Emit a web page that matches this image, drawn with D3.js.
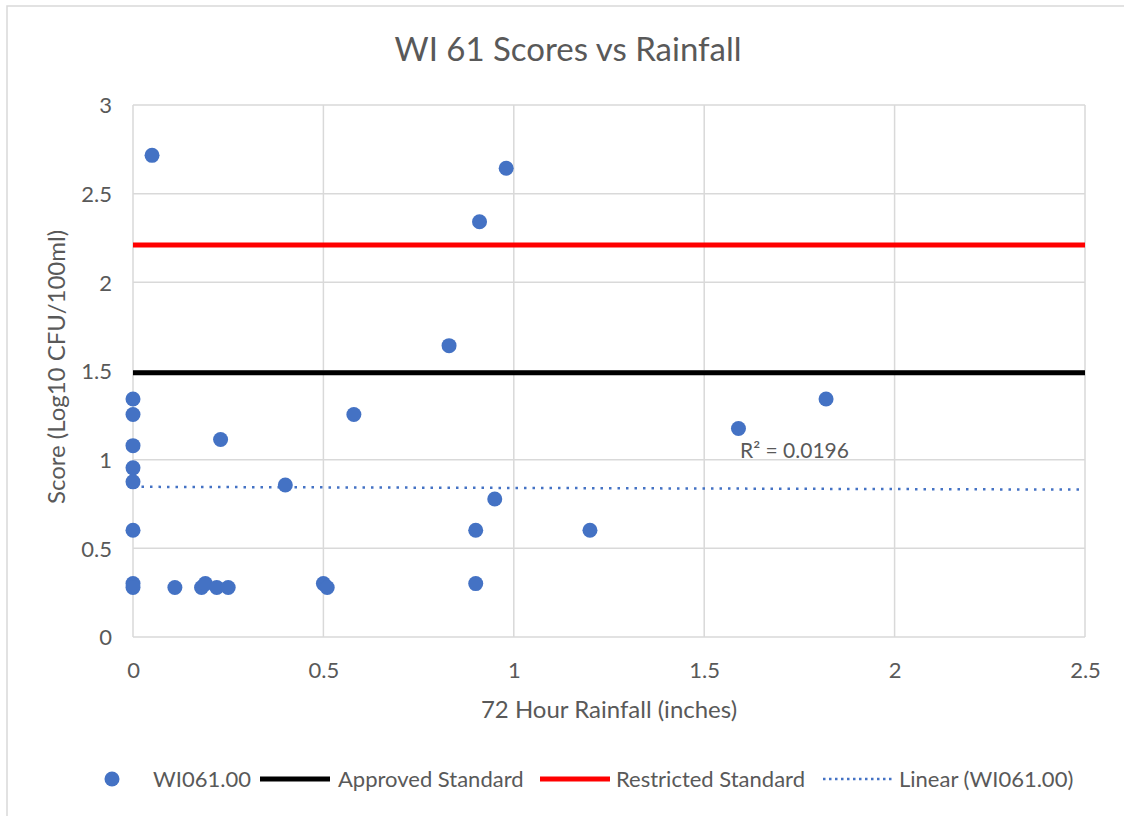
<!DOCTYPE html>
<html>
<head>
<meta charset="utf-8">
<script src="https://cdn.jsdelivr.net/npm/d3@7"></script>
<style>
  html, body { margin: 0; padding: 0; background: #fff; }
  svg { display: block; }
  text { font-family: Lato, "Open Sans", sans-serif; fill: #595959; }
</style>
</head>
<body>
<svg id="chart" width="1124" height="816"></svg>
<script>
// ---- data ----
const rainfall = [0.05, 0.98, 0.91, 0.83, 0.58, 0.23, 0.40, 0.95, 0.90, 1.20, 0.90, 1.59, 1.82,
                  0, 0, 0, 0, 0, 0, 0, 0,
                  0.11, 0.18, 0.19, 0.22, 0.25, 0.50, 0.51];
const scores   = [2.716, 2.643, 2.342, 1.643, 1.255, 1.114, 0.857, 0.778, 0.602, 0.602, 0.301, 1.176, 1.342,
                  1.342, 1.255, 1.079, 0.954, 0.875, 0.602, 0.301, 0.279,
                  0.279, 0.279, 0.301, 0.279, 0.279, 0.301, 0.279];
const approvedStandard = 1.49;
const restrictedStandard = 2.21;
const trendX = [0, 2.5];
const trendY = [0.847, 0.831];
const rSquaredLabel = "R² = 0.0196";
const xTicks = [0, 0.5, 1, 1.5, 2, 2.5];
const yTicks = [0, 0.5, 1, 1.5, 2, 2.5, 3];
const legendLabels = ["WI061.00", "Approved Standard", "Restricted Standard", "Linear (WI061.00)"];

const svg = d3.select("#chart");
const x = d3.scaleLinear().domain([0, 2.5]).range([133, 1085]);
const y = d3.scaleLinear().domain([0, 3]).range([637, 105]);

const blue = "#4472C4", grid = "#d9d9d9";
const FONT = "Lato, 'Open Sans', sans-serif";

// chart border
svg.append("rect").attr("x", 7).attr("y", 6).attr("width", 1130).attr("height", 830)
  .attr("fill", "none").attr("stroke", grid).attr("stroke-width", 1.5);

// title
svg.append("text").attr("x", 568).attr("y", 61).attr("text-anchor", "middle")
  .attr("font-size", 33).text("WI 61 Scores vs Rainfall");

// gridlines
const g = svg.append("g");
g.selectAll(".vg").data(xTicks).join("line")
  .attr("x1", d => x(d)).attr("x2", d => x(d)).attr("y1", y(0)).attr("y2", y(3))
  .attr("stroke", grid).attr("stroke-width", 1.5);
g.selectAll(".hg").data(yTicks).join("line")
  .attr("x1", x(0)).attr("x2", x(2.5)).attr("y1", d => y(d)).attr("y2", d => y(d))
  .attr("stroke", grid).attr("stroke-width", 1.5);

// axes (labels only)
const xAxis = svg.append("g").attr("transform", `translate(0,${y(0)})`)
  .call(d3.axisBottom(x).tickValues(xTicks).tickSize(0).tickPadding(0).tickFormat(d3.format("~g")));
const yAxis = svg.append("g").attr("transform", `translate(${x(0)},0)`)
  .call(d3.axisLeft(y).tickValues(yTicks).tickSize(0).tickPadding(21).tickFormat(d3.format("~g")));
[xAxis, yAxis].forEach(a => {
  a.select(".domain").remove();
  a.selectAll("text").attr("font-size", 22).attr("fill", "#595959").style("font-family", FONT);
});
xAxis.selectAll("text").attr("y", 41).attr("dy", "0");
yAxis.selectAll("text").attr("dy", "0.36em");

// axis titles
svg.append("text").attr("x", 609).attr("y", 718).attr("text-anchor", "middle")
  .attr("font-size", 24).text("72 Hour Rainfall (inches)");
svg.append("text").attr("transform", "translate(65,367) rotate(-90)").attr("text-anchor", "middle")
  .attr("font-size", 24).text("Score (Log10 CFU/100ml)");

// standards
svg.append("line").attr("x1", x(0)).attr("x2", x(2.5))
  .attr("y1", y(approvedStandard)).attr("y2", y(approvedStandard))
  .attr("stroke", "#000").attr("stroke-width", 5);
svg.append("line").attr("x1", x(0)).attr("x2", x(2.5))
  .attr("y1", y(restrictedStandard)).attr("y2", y(restrictedStandard))
  .attr("stroke", "#ff0000").attr("stroke-width", 5);

// trend line
svg.append("line").attr("x1", x(trendX[0])).attr("x2", x(trendX[1]))
  .attr("y1", y(trendY[0])).attr("y2", y(trendY[1]))
  .attr("stroke", blue).attr("stroke-width", 2.5)
  .attr("stroke-dasharray", "2.5,6").attr("stroke-linecap", "butt");

// points
svg.append("g").selectAll("circle").data(rainfall.map((r, i) => [r, scores[i]])).join("circle")
  .attr("cx", d => x(d[0])).attr("cy", d => y(d[1])).attr("r", 7.5).attr("fill", blue);

// R² label
svg.append("text").attr("x", 740).attr("y", 458).attr("font-size", 21).text(rSquaredLabel);

// legend
const ly = 779;
const lg = svg.append("g").attr("font-size", 22);
lg.append("circle").attr("cx", 112).attr("cy", ly).attr("r", 7.5).attr("fill", blue);
lg.append("text").attr("x", 153).attr("y", ly + 8).text(legendLabels[0]);
lg.append("line").attr("x1", 260).attr("x2", 330).attr("y1", ly).attr("y2", ly).attr("stroke", "#000").attr("stroke-width", 5);
lg.append("text").attr("x", 338).attr("y", ly + 8).text(legendLabels[1]);
lg.append("line").attr("x1", 540).attr("x2", 610).attr("y1", ly).attr("y2", ly).attr("stroke", "#ff0000").attr("stroke-width", 5);
lg.append("text").attr("x", 616).attr("y", ly + 8).text(legendLabels[2]);
lg.append("line").attr("x1", 823).attr("x2", 893).attr("y1", ly).attr("y2", ly).attr("stroke", blue).attr("stroke-width", 2.5).attr("stroke-dasharray", "2.5,3.5");
lg.append("text").attr("x", 899).attr("y", ly + 8).text(legendLabels[3]);
</script>
</body>
</html>
